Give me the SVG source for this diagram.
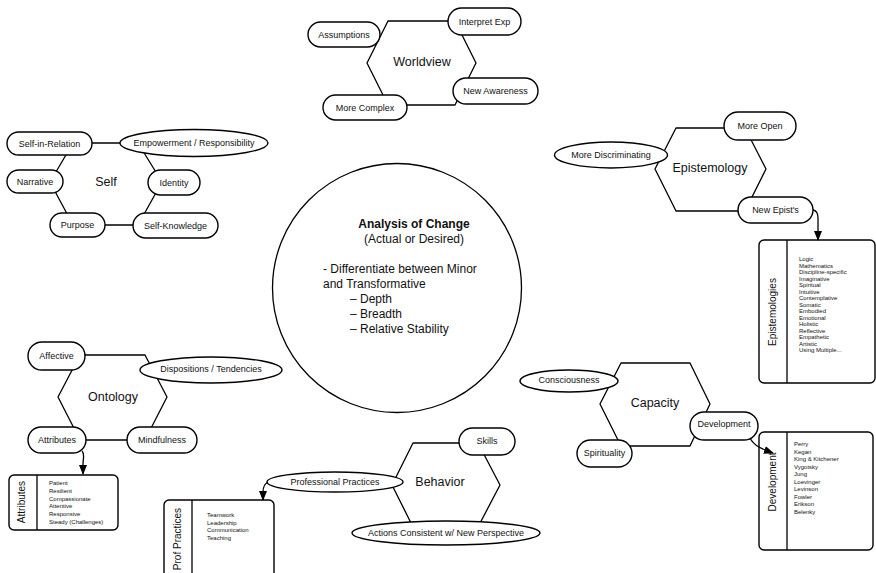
<svg xmlns="http://www.w3.org/2000/svg" width="876" height="573" viewBox="0 0 876 573">
  <defs>
    <style>
      .hex { fill: #fff; stroke: #000; stroke-width: 1.3; stroke-linejoin: round; }
      .pill { fill: #fff; stroke: #000; stroke-width: 1.4; }
      .box { fill: #fff; stroke: #000; stroke-width: 1.4; }
      .div { stroke: #000; stroke-width: 1.3; }
      .conn { fill: none; stroke: #000; stroke-width: 1.3; }
      text { font-family: "Liberation Sans", Arial, sans-serif; fill: #111; }
      .pt { font-size: 9px; text-anchor: middle; dominant-baseline: central; }
      .ht { font-size: 12.5px; text-anchor: middle; dominant-baseline: central; }
      .vt { font-size: 10px; text-anchor: middle; dominant-baseline: central; }
      .lt { font-size: 6px; }
      .ct { font-size: 12px; }
    </style>
    <marker id="arrow" markerUnits="userSpaceOnUse" markerWidth="10" markerHeight="10" viewBox="0 0 10 10" refX="9" refY="5" orient="auto">
      <path d="M0,1 L10,5 L0,9 Z" fill="#000"/>
    </marker>
  </defs>
  <rect width="876" height="573" fill="#fff"/>

  <!-- central circle -->
  <g id="analysis">
    <circle cx="397" cy="288" r="124.5" fill="#fff" stroke="#000" stroke-width="1.3"/>
    <text class="ct" x="414" y="228" text-anchor="middle" font-weight="bold">Analysis of Change</text>
    <text class="ct" x="414" y="243" text-anchor="middle">(Actual or Desired)</text>
    <text class="ct" x="323" y="273">- Differentiate between Minor</text>
    <text class="ct" x="323" y="288">and Transformative</text>
    <text class="ct" x="350" y="303">– Depth</text>
    <text class="ct" x="350" y="318">– Breadth</text>
    <text class="ct" x="350" y="333">– Relative Stability</text>
  </g>

  <!-- Worldview -->
  <g id="worldview">
    <polygon class="hex" points="367,63 388,21 455,21 476,63 455,105 388,105"/>
    <text class="ht" x="422" y="62">Worldview</text>
  </g>
  <g id="assumptions"><rect class="pill" x="308" y="22" width="72" height="25" rx="12.5"/><text class="pt" x="344" y="34.5">Assumptions</text></g>
  <g id="interpret-exp"><rect class="pill" x="448" y="8" width="73" height="27" rx="13.5"/><text class="pt" x="484.5" y="21.5">Interpret Exp</text></g>
  <g id="new-awareness"><rect class="pill" x="453" y="78" width="85" height="26" rx="13"/><text class="pt" x="495.5" y="91">New Awareness</text></g>
  <g id="more-complex"><rect class="pill" x="323" y="95" width="84" height="25" rx="12.5"/><text class="pt" x="365" y="107.5">More Complex</text></g>

  <!-- Self -->
  <g id="self">
    <polygon class="hex" points="50,182 73,143 138,143 162,182 138,225 73,225"/>
    <text class="ht" x="106" y="182">Self</text>
  </g>
  <g id="self-in-relation"><rect class="pill" x="7" y="132" width="85" height="23" rx="11.5"/><text class="pt" x="49.5" y="143.5">Self-in-Relation</text></g>
  <g id="empowerment"><ellipse class="pill" cx="194" cy="143" rx="74" ry="13.5"/><text class="pt" x="194" y="143">Empowerment / Responsibility</text></g>
  <g id="narrative"><rect class="pill" x="7" y="170" width="56" height="23" rx="11.5"/><text class="pt" x="35" y="181.5">Narrative</text></g>
  <g id="identity"><rect class="pill" x="148" y="170" width="52" height="25" rx="12.5"/><text class="pt" x="174" y="182.5">Identity</text></g>
  <g id="purpose"><rect class="pill" x="50" y="213" width="55" height="24" rx="12"/><text class="pt" x="77.5" y="225">Purpose</text></g>
  <g id="self-knowledge"><rect class="pill" x="133" y="213" width="85" height="25" rx="12.5"/><text class="pt" x="175.5" y="225.5">Self-Knowledge</text></g>

  <!-- Epistemology -->
  <g id="epistemology">
    <polygon class="hex" points="655,169 676,128 745,128 766,169 745,211 676,211"/>
    <text class="ht" x="710" y="168">Epistemology</text>
  </g>
  <g id="more-open"><rect class="pill" x="724" y="112" width="72" height="28" rx="14"/><text class="pt" x="760" y="126">More Open</text></g>
  <g id="more-discriminating"><ellipse class="pill" cx="611" cy="155" rx="56.5" ry="13"/><text class="pt" x="611" y="155">More Discriminating</text></g>
  <g id="new-epists"><rect class="pill" x="738" y="197" width="75" height="26" rx="13"/><text class="pt" x="775.5" y="210">New Epist's</text></g>

  <!-- Epistemologies list -->
  <g id="epistemologies">
    <rect class="box" x="759" y="240" width="116" height="143" rx="5"/>
    <line class="div" x1="787" y1="240" x2="787" y2="383"/>
    <text class="vt" transform="translate(772,312) rotate(-90)">Epistemologies</text>
    <g class="lt">
      <text x="799" y="261">Logic</text>
      <text x="799" y="267.5">Mathematics</text>
      <text x="799" y="274">Discipline-specific</text>
      <text x="799" y="280.5">Imaginative</text>
      <text x="799" y="287">Spiritual</text>
      <text x="799" y="293.5">Intuitive</text>
      <text x="799" y="300">Contemplative</text>
      <text x="799" y="306.5">Somatic</text>
      <text x="799" y="313">Embodied</text>
      <text x="799" y="319.5">Emotional</text>
      <text x="799" y="326">Holistic</text>
      <text x="799" y="332.5">Reflective</text>
      <text x="799" y="339">Empathetic</text>
      <text x="799" y="345.5">Artistic</text>
      <text x="799" y="352">Using Multiple...</text>
    </g>
  </g>

  <!-- Ontology -->
  <g id="ontology">
    <polygon class="hex" points="58,397 80,355 145,355 167,397 145,440 80,440"/>
    <text class="ht" x="113" y="397">Ontology</text>
  </g>
  <g id="affective"><rect class="pill" x="28" y="342" width="57" height="28" rx="14"/><text class="pt" x="56.5" y="356">Affective</text></g>
  <g id="dispositions"><ellipse class="pill" cx="211" cy="370" rx="71" ry="13"/><text class="pt" x="211" y="369">Dispositions / Tendencies</text></g>
  <g id="attributes"><rect class="pill" x="28" y="427" width="58" height="26" rx="13"/><text class="pt" x="57" y="440">Attributes</text></g>
  <g id="mindfulness"><rect class="pill" x="127" y="427" width="70" height="26" rx="13"/><text class="pt" x="162" y="440">Mindfulness</text></g>

  <!-- Attributes list -->
  <g id="attributes-list">
    <rect class="box" x="9" y="475" width="109" height="55" rx="5"/>
    <line class="div" x1="37" y1="475" x2="37" y2="530"/>
    <text class="vt" transform="translate(21,502) rotate(-90)">Attributes</text>
    <g class="lt">
      <text x="49" y="485">Patient</text>
      <text x="49" y="492.8">Resilient</text>
      <text x="49" y="500.6">Compassionate</text>
      <text x="49" y="508.4">Attentive</text>
      <text x="49" y="516.2">Responsive</text>
      <text x="49" y="524">Steady (Challenges)</text>
    </g>
  </g>

  <!-- Capacity -->
  <g id="capacity">
    <polygon class="hex" points="600,404 621,363 690,363 710,404 690,446 621,446"/>
    <text class="ht" x="655" y="403">Capacity</text>
  </g>
  <g id="consciousness"><ellipse class="pill" cx="569" cy="381" rx="49" ry="11"/><text class="pt" x="569" y="380">Consciousness</text></g>
  <g id="development"><rect class="pill" x="690" y="412" width="68" height="28" rx="14"/><text class="pt" x="724" y="424">Development</text></g>
  <g id="spirituality"><rect class="pill" x="577" y="440" width="55" height="27" rx="13.5"/><text class="pt" x="604.5" y="453">Spirituality</text></g>

  <!-- Development list -->
  <g id="development-list">
    <rect class="box" x="759" y="432" width="114" height="118" rx="5"/>
    <line class="div" x1="787" y1="432" x2="787" y2="550"/>
    <text class="vt" transform="translate(772,482) rotate(-90)">Development</text>
    <g class="lt">
      <text x="794" y="446">Perry</text>
      <text x="794" y="453.5">Kegan</text>
      <text x="794" y="461">King &amp; Kitchener</text>
      <text x="794" y="468.5">Vygotsky</text>
      <text x="794" y="476">Jung</text>
      <text x="794" y="483.5">Loevinger</text>
      <text x="794" y="491">Levinson</text>
      <text x="794" y="498.5">Fowler</text>
      <text x="794" y="506">Erikson</text>
      <text x="794" y="513.5">Belenky</text>
    </g>
  </g>

  <!-- Behavior -->
  <g id="behavior">
    <polygon class="hex" points="392,485 413,443 478,443 500,485 478,527 413,527"/>
    <text class="ht" x="440" y="482">Behavior</text>
  </g>
  <g id="skills"><rect class="pill" x="459" y="428" width="56" height="27" rx="13.5"/><text class="pt" x="487" y="441">Skills</text></g>
  <g id="professional-practices"><ellipse class="pill" cx="335" cy="482" rx="68" ry="10"/><text class="pt" x="335" y="482">Professional Practices</text></g>
  <g id="actions-consistent"><ellipse class="pill" cx="446" cy="533" rx="94" ry="12"/><text class="pt" x="446" y="533">Actions Consistent w/ New Perspective</text></g>

  <!-- Prof Practices list -->
  <g id="prof-practices">
    <rect class="box" x="164" y="500" width="110" height="80" rx="5"/>
    <line class="div" x1="192" y1="500" x2="192" y2="573"/>
    <text class="vt" transform="translate(177,539) rotate(-90)">Prof Practices</text>
    <g class="lt">
      <text x="207" y="517">Teamwork</text>
      <text x="207" y="524.7">Leadership</text>
      <text x="207" y="532.4">Communication</text>
      <text x="207" y="540.1">Teaching</text>
    </g>
  </g>

  <!-- connectors -->
  <g id="connectors">
    <path class="conn" d="M813,210 C819,211 818,218 818,226 L818,240" marker-end="url(#arrow)"/>
    <path class="conn" d="M750,438 C754,446 762,449 773,453" marker-end="url(#arrow)"/>
    <path class="conn" d="M82,451 C85,454 83,459 83,464 L83,474" marker-end="url(#arrow)"/>
    <path class="conn" d="M268,482 C264,484 263,488 263,492 L263,500" marker-end="url(#arrow)"/>
  </g>
</svg>
